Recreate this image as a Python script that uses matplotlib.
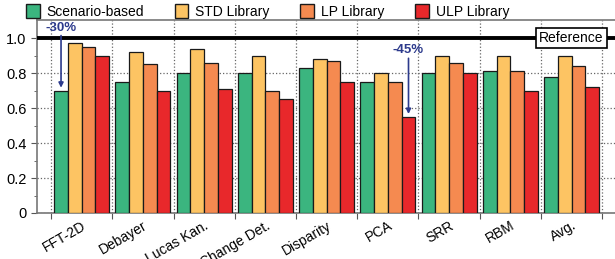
import numpy as np
import matplotlib
matplotlib.use("Agg")
from matplotlib import pyplot as plt
from matplotlib.patches import Patch

plt.rcParams['font.family'] = ['Liberation Sans', 'DejaVu Sans']

# benchmarks and normalized values
benchmarks = ["FFT-2D", "Debayer", "Lucas Kan.", "Change Det.", "Disparity",
              "PCA", "SRR", "RBM", "Avg."]
scenario = [0.70, 0.75, 0.80, 0.80, 0.83, 0.75, 0.80, 0.81, 0.78]
std_lib = [0.97, 0.92, 0.94, 0.90, 0.88, 0.80, 0.90, 0.90, 0.90]
lp_lib = [0.95, 0.85, 0.86, 0.70, 0.87, 0.75, 0.86, 0.81, 0.84]
ulp_lib = [0.90, 0.70, 0.71, 0.65, 0.75, 0.55, 0.80, 0.70, 0.72]

series_names = ["Scenario-based", "STD Library", "LP Library", "ULP Library"]
colors = ["#3bb57f", "#fdc463", "#f58a50", "#e8282b"]

fig = plt.figure(figsize=(6.15, 2.59), dpi=100)
ax = fig.add_axes([37 / 615, 46 / 259, 578 / 615, 193 / 259])

x = np.arange(len(benchmarks))
w = 0.225
allvals = [scenario, std_lib, lp_lib, ulp_lib]
for i, vals in enumerate(allvals):
    ax.bar(x + (i - 1.5) * w, vals, w, color=colors[i], edgecolor="#1a1a1a",
           linewidth=0.9, zorder=3)

# reference line
ax.axhline(1.0, color="black", linewidth=2.8, zorder=4)
ax.text(8.0, 1.0, "Reference", ha="center", va="center", fontsize=10, zorder=5,
        bbox=dict(boxstyle="square,pad=0.2", facecolor="white", edgecolor="black", linewidth=1.2))

# annotations
blue = "#2c3a8c"
ax.annotate("", xy=(0 - 1.5 * w, 0.70), xytext=(0 - 1.5 * w, 1.03),
            arrowprops=dict(arrowstyle="-|>", color=blue, lw=1.2, mutation_scale=7), zorder=6)
ax.text(0 - 1.5 * w, 1.025, "-30%", color=blue, fontsize=9.5, fontweight="bold",
        ha="center", va="bottom", zorder=6)
ax.annotate("", xy=(5 + 1.5 * w, 0.55), xytext=(5 + 1.5 * w, 0.90),
            arrowprops=dict(arrowstyle="-|>", color=blue, lw=1.2, mutation_scale=7), zorder=6)
ax.text(5 + 1.5 * w, 0.9, "-45%", color=blue, fontsize=9.5, fontweight="bold",
        ha="center", va="bottom", zorder=6)

ax.set_ylim(0, 1.103)
ax.set_xlim(-0.73, 8.71)
ax.set_yticks([0, 0.2, 0.4, 0.6, 0.8, 1.0])
ax.set_yticklabels(["0", "0.2", "0.4", "0.6", "0.8", "1.0"], fontsize=10.5)
ax.set_yticks(np.arange(0.1, 1.1, 0.2), minor=True)

# ticks at group boundaries, labels at group centers
ax.set_xticks(np.arange(-0.5, 9, 1))
ax.set_xticklabels([])
ax.set_xticks(x, minor=True)
ax.set_xticklabels(benchmarks, minor=True, rotation=30, ha="right",
                   rotation_mode="anchor", fontsize=10)
ax.tick_params(axis="x", which="minor", length=0, pad=4)
ax.tick_params(axis="x", which="major", length=4, color="#555555")
ax.tick_params(axis="y", which="major", length=4, color="#555555")
ax.tick_params(axis="y", which="minor", length=2, color="#555555")

ax.grid(True, which="major", linestyle=":", color="#666666", linewidth=0.9, zorder=0)
ax.set_axisbelow(True)

for s in ["left", "bottom", "top"]:
    ax.spines[s].set_color("#777777")
    ax.spines[s].set_linewidth(1.2)
ax.spines["right"].set_visible(False)

handles = [Patch(facecolor=c, edgecolor="#1a1a1a", label=n) for c, n in zip(colors, series_names)]
fig.legend(handles=handles, loc="center", bbox_to_anchor=(0.435, 0.955), ncol=4,
           frameon=False, fontsize=10, handlelength=1.0, handleheight=1.1,
           handletextpad=0.5, columnspacing=2.2, borderpad=0)

fig.savefig("out.png", dpi=100)
